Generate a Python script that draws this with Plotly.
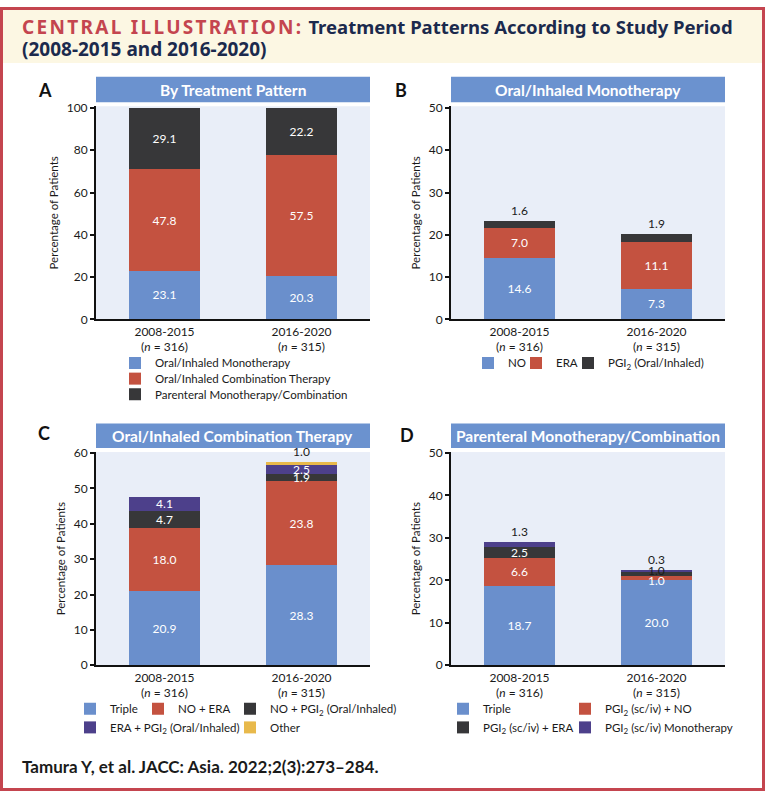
import plotly.graph_objects as go

W, H = 765, 798

# ---------------- data ----------------
periods = ["2008-2015", "2016-2020"]
n_patients = [316, 315]

# Panel A: by treatment pattern
a_names = ["Oral/Inhaled Monotherapy", "Oral/Inhaled Combination Therapy",
           "Parenteral Monotherapy/Combination"]
a_mono = [23.1, 20.3]
a_combo = [47.8, 57.5]
a_parent = [29.1, 22.2]

# Panel B: oral/inhaled monotherapy
b_names = ["NO", "ERA", "PGI<sub>2</sub> (Oral/Inhaled)"]
b_no = [14.6, 7.3]
b_era = [7.0, 11.1]
b_pgi = [1.6, 1.9]

# Panel C: oral/inhaled combination therapy
c_names = ["Triple", "NO + ERA", "NO + PGI<sub>2</sub> (Oral/Inhaled)",
           "ERA + PGI<sub>2</sub> (Oral/Inhaled)", "Other"]
c_triple = [20.9, 28.3]
c_no_era = [18.0, 23.8]
c_no_pgi = [4.7, 1.9]
c_era_pgi = [4.1, 2.5]
c_other = [0.0, 1.0]

# Panel D: parenteral monotherapy/combination
d_names = ["Triple", "PGI<sub>2</sub> (sc/iv) + NO", "PGI<sub>2</sub> (sc/iv) + ERA",
           "PGI<sub>2</sub> (sc/iv) Monotherapy"]
d_triple = [18.7, 20.0]
d_pgi_no = [6.6, 1.0]
d_pgi_era = [2.5, 1.0]
d_pgi_mono = [1.3, 0.3]

panel_titles = ["By Treatment Pattern", "Oral/Inhaled Monotherapy",
                "Oral/Inhaled Combination Therapy", "Parenteral Monotherapy/Combination"]
panel_letters = ["A", "B", "C", "D"]

# ---------------- styles ----------------
BLUE = "#6A8FCC"
RED = "#C45240"
DARK = "#373739"
PURPLE = "#4D408B"
YELLOW = "#E8B94B"
PLOTBG = "#E9EEF8"
BORDER = "#C4454F"
CREAM = "#FCF7E3"
NAVY = "#1B2A4D"
TXT = "#1a1a1a"
FONT = "Lato"
TFONT = "Noto Sans"

cats = [f"{p}<br>(<i>n</i> = {n})" for p, n in zip(periods, n_patients)]


def fx(px):
    return px / W


def fy(py):
    return 1 - py / H


fig = go.Figure()
legend_layout = {}
legend_count = [0]

lfont = dict(family=FONT, size=11.5, color=TXT)


def new_legend(sym_cx, row_cy):
    """one legend box per entry, placed by its swatch centre (pixels)"""
    legend_count[0] += 1
    key = "legend" if legend_count[0] == 1 else f"legend{legend_count[0]}"
    legend_layout[key] = dict(font=lfont, bgcolor="rgba(0,0,0,0)", borderwidth=0,
                              orientation="h", xanchor="left", yanchor="top",
                              x=fx(sym_cx - 20), y=fy(row_cy - 14.5),
                              itemclick=False, itemdoubleclick=False)
    return key


def add_bars(vals, name, color, xa, ya, legpos, textpos=None, hide=None):
    txt = []
    for i, v in enumerate(vals):
        if v <= 0 or (hide and i in hide):
            txt.append("")
        else:
            txt.append(f"{v:.1f}")
    if textpos is None:
        textpos = ["inside"] * len(vals)
    textcolors = ["white" if p == "inside" else TXT for p in textpos]
    fig.add_trace(go.Bar(
        x=cats, y=vals, name=name, marker=dict(color=color, line=dict(width=0)),
        xaxis=xa, yaxis=ya, legend=new_legend(*legpos), showlegend=True,
        text=txt, textposition=textpos, textangle=0,
        insidetextanchor="middle",
        textfont=dict(family=FONT, size=12, color=textcolors),
        outsidetextfont=dict(family=FONT, size=12, color=TXT),
        cliponaxis=False, hoverinfo="skip",
    ))


OUT2 = ["outside", "outside"]

# Panel A
add_bars(a_mono, a_names[0], BLUE, "x", "y", (135, 362))
add_bars(a_combo, a_names[1], RED, "x", "y", (135, 378))
add_bars(a_parent, a_names[2], DARK, "x", "y", (135, 394))

# Panel B
add_bars(b_no, b_names[0], BLUE, "x2", "y2", (488, 362))
add_bars(b_era, b_names[1], RED, "x2", "y2", (536, 362))
add_bars(b_pgi, b_names[2], DARK, "x2", "y2", (588, 362), textpos=OUT2)

# Panel C
add_bars(c_triple, c_names[0], BLUE, "x3", "y3", (90, 714))
add_bars(c_no_era, c_names[1], RED, "x3", "y3", (158, 714))
add_bars(c_no_pgi, c_names[2], DARK, "x3", "y3", (250, 714))
add_bars(c_era_pgi, c_names[3], PURPLE, "x3", "y3", (90, 733))
add_bars(c_other, c_names[4], YELLOW, "x3", "y3", (250, 733), textpos=OUT2)

# Panel D
add_bars(d_triple, d_names[0], BLUE, "x4", "y4", (463, 714))
add_bars(d_pgi_no, d_names[1], RED, "x4", "y4", (585, 714), hide=[1])
add_bars(d_pgi_era, d_names[2], DARK, "x4", "y4", (463, 733), hide=[1])
add_bars(d_pgi_mono, d_names[3], PURPLE, "x4", "y4", (585, 733), textpos=OUT2)

annotations = []
# crowded labels in panel D (2016-2020), placed from the stacked data
base_red = d_triple[1]
annotations.append(dict(x=cats[1], y=base_red + d_pgi_no[1] / 2, xref="x4", yref="y4",
                        text=f"{d_pgi_no[1]:.1f}", showarrow=False, yshift=-2,
                        font=dict(family=FONT, size=12, color="white")))
base_dark = d_triple[1] + d_pgi_no[1]
annotations.append(dict(x=cats[1], y=base_dark + d_pgi_era[1] / 2, xref="x4", yref="y4",
                        text=f"{d_pgi_era[1]:.1f}", showarrow=False, yshift=3,
                        font=dict(family=FONT, size=12, color=TXT)))

# ---------------- axes ----------------
xdom_left = [fx(96), fx(370)]
xdom_right = [fx(451), fx(725)]
ydom_top = [fy(318), fy(101)]
ydom_bot = [fy(670), fy(453)]

xcommon = dict(type="category", range=[-0.5, 1.5], showline=True, linecolor="#111",
               linewidth=2, ticks="", showgrid=False, zeroline=False,
               tickfont=dict(family=FONT, size=12, color=TXT), fixedrange=True)
ycommon = dict(showline=True, linecolor="#111", linewidth=2, ticks="outside",
               ticklen=4, tickwidth=1.5, tickcolor="#111", showgrid=False,
               zeroline=False, tickfont=dict(family=FONT, size=12, color=TXT),
               title=dict(text="Percentage of Patients",
                          font=dict(family=FONT, size=11.5, color=TXT), standoff=6),
               fixedrange=True)

fig.update_layout(
    xaxis=dict(xcommon, domain=xdom_left, anchor="y"),
    yaxis=dict(ycommon, domain=ydom_top, anchor="x", range=[0, 100.8], dtick=20),
    xaxis2=dict(xcommon, domain=xdom_right, anchor="y2"),
    yaxis2=dict(ycommon, domain=ydom_top, anchor="x2", range=[0, 50.4], dtick=10),
    xaxis3=dict(xcommon, domain=xdom_left, anchor="y3"),
    yaxis3=dict(ycommon, domain=ydom_bot, anchor="x3", range=[0, 60.28], dtick=10),
    xaxis4=dict(xcommon, domain=xdom_right, anchor="y4"),
    yaxis4=dict(ycommon, domain=ydom_bot, anchor="x4", range=[0, 50.23], dtick=10),
)
fig.update_layout(**legend_layout)

# ---------------- decorations ----------------
shapes = [
    dict(type="rect", xref="paper", yref="paper", x0=0, x1=1, y0=fy(57), y1=1,
         fillcolor=CREAM, line=dict(width=0), layer="below"),
    dict(type="rect", xref="paper", yref="paper", x0=fx(1.5), x1=fx(763.5),
         y0=fy(796.5), y1=fy(1.5), line=dict(color=BORDER, width=3), fillcolor="rgba(0,0,0,0)"),
]
bars_px = [(96, 370, 71, 97), (451, 725, 71, 97), (96, 370, 424, 449), (451, 725, 424, 449)]
letters_px = [(45, 84), (401, 84), (44, 434), (407, 436)]
for (x0, x1, y0, y1), t, L, (lx, ly) in zip(bars_px, panel_titles, panel_letters, letters_px):
    shapes.append(dict(type="rect", xref="paper", yref="paper", x0=fx(x0), x1=fx(x1),
                       y0=fy(y1), y1=fy(y0), fillcolor="#6B92CF", line=dict(width=0)))
    annotations.append(dict(x=fx((x0 + x1) / 2), y=fy((y0 + y1) / 2), xref="paper", yref="paper",
                            text=t, showarrow=False, xanchor="center", yanchor="middle",
                            font=dict(family=FONT, size=15.5, color="white", weight="bold")))
    annotations.append(dict(x=fx(lx), y=fy(ly), xref="paper", yref="paper", text=L,
                            showarrow=False, xanchor="center", yanchor="middle",
                            font=dict(family=FONT, size=18, color="#111", weight="bold")))

annotations.append(dict(
    x=fx(20), y=fy(20), xref="paper", yref="paper", xanchor="left", yanchor="middle",
    showarrow=False,
    text=(f"<span style='color:{BORDER};letter-spacing:2.3px'>CENTRAL ILLUSTRATION:</span>"
          f" <span style='color:{NAVY};font-size:18.5px'>Treatment Patterns According to Study Period</span>"),
    font=dict(family=TFONT, size=19, color=NAVY, weight="bold")))
annotations.append(dict(
    x=fx(20), y=fy(43), xref="paper", yref="paper", xanchor="left", yanchor="middle",
    showarrow=False, text="(2008-2015 and 2016-2020)",
    font=dict(family=TFONT, size=19, color=NAVY, weight="bold")))
annotations.append(dict(
    x=fx(20), y=fy(773), xref="paper", yref="paper", xanchor="left", yanchor="middle",
    showarrow=False, text="Tamura Y, et al. JACC: Asia. 2022;2(3):273\u2013284.",
    font=dict(family=FONT, size=17, color=TXT, weight="bold")))

fig.update_layout(
    width=W, height=H, margin=dict(l=0, r=0, t=0, b=0),
    paper_bgcolor="white", plot_bgcolor=PLOTBG,
    barmode="stack", bargap=0.475, showlegend=True,
    uniformtext=dict(minsize=12, mode="show"),
    shapes=shapes, annotations=annotations,
    font=dict(family=FONT, color=TXT),
)

fig.write_html("out.html", config={"displayModeBar": False},
               post_script="document.body.style.margin='0';")
